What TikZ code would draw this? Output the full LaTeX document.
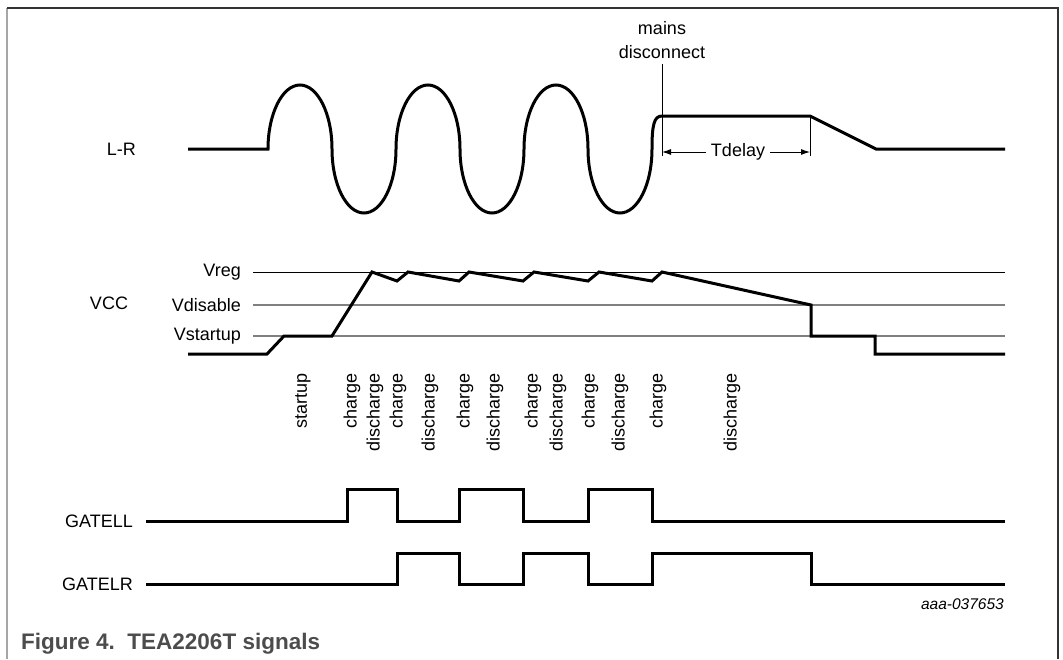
\documentclass[tikz,border=0pt]{standalone}
\usepackage{fontspec}
\setmainfont{Liberation Sans}
\usetikzlibrary{arrows.meta}

\begin{document}
\begin{tikzpicture}[x=1pt,y=-1pt,font=\fontsize{18}{20}\selectfont]
  \tikzstyle{every node}=[inner sep=0pt]
  \tikzstyle{signal}=[line width=3pt,line join=miter]
  \tikzstyle{level}=[line width=1.3pt,black!50]
  \tikzstyle{marker}=[line width=0.9pt]
  \tikzstyle{phase}=[rotate=90,anchor=east]
  \tikzstyle{signame}=[anchor=east]
  \tikzstyle{hump}=[x radius=32pt,y radius=64pt]

  \useasboundingbox (0,0) rectangle (1063,659);
  \draw[black!35,line width=1.5pt] (7,659) -- (7,8);
  \draw[black!80,line width=1.5pt] (7,8) -- (1058,8) -- (1058,659);

  \node[signame] (lr)   at (136,149) {L-R};
  \node          (vcc)  at (109,303) {VCC};
  \node[signame] (vreg) at (241,272) {Vreg};
  \node[signame] (vdis) at (241,305) {Vdisable};
  \node[signame] (vst)  at (241,336) {Vstartup};
  \node[signame] (gll)  at (133,521) {GATELL};
  \node[signame] (glr)  at (133,584) {GATELR};
  \coordinate (rend) at (1005,0);

  \draw[marker] ([xshift=12pt]vreg.east) -- (vreg.east -| rend);
  \draw[level]  ([xshift=12pt]vdis.east) -- (vdis.east -| rend);
  \draw[level]  ([xshift=12pt]vst.east)  -- (vst.east -| rend);

  \draw[signal] (188,149) -- (268,149)
    \foreach \i in {1,2,3} {
      arc[hump,start angle=180,end angle=0] arc[hump,start angle=180,end angle=360]
    }
    .. controls (652,125) and (654,116) .. (662,116) -- (810,116) -- (876,149) -- (1005,149);

  \node (mains) at (662,28) {mains};
  \node (disc)  at (662,52) {disconnect};
  \node (tdl)   at (738,152) {Tdelay};
  \coordinate (td0) at (662,156);
  \coordinate (td1) at (810,156);
  \draw[marker] ([yshift=-5pt]disc.south) -- (td0);
  \draw[marker] (810,116) -- (td1);
  \draw[marker,-{Latex[length=9pt,width=6pt]}] ([xshift=-5pt]tdl.west) -- (td0 |- tdl);
  \draw[marker,-{Latex[length=9pt,width=6pt]}] ([xshift=5pt]tdl.east) -- (td1 |- tdl);

  \draw[signal] (188,354) -- (267,354) -- (284,336) -- (332,336) -- (372,272)
    -- (397,281) -- (408,272) -- (459,281) -- (469,272) -- (523,281) -- (534,272)
    -- (588,281) -- (599,272) -- (652,281) -- (662,272)
    -- (811,305) -- (811,336) -- (875,336) -- (875,354) -- (1005,354);

  \foreach \x/\t in {303/startup,352/charge,375/discharge,398/charge,430/discharge,
                     465/charge,495/discharge,533/charge,558/discharge,590/charge,
                     620/discharge,658/charge,732/discharge}
    \node[phase] (ph\x) at (\x,373) {\t};

  \draw[signal] ([xshift=13pt]gll.east) -- (347,521) -- (347,489) -- (397,489) -- (397,521)
    -- (459,521) -- (459,489) -- (523,489) -- (523,521) -- (588,521) -- (588,489)
    -- (652,489) -- (652,521) -- (1005,521);
  \draw[signal] ([xshift=13pt]glr.east) -- (397,584) -- (397,553) -- (459,553) -- (459,584)
    -- (523,584) -- (523,553) -- (588,553) -- (588,584) -- (652,584) -- (652,553)
    -- (811,553) -- (811,584) -- (1005,584);

  \node[anchor=base east,font=\itshape\fontsize{15.5}{17}\selectfont] (code) at (1004,609) {aaa-037653};
  \node[anchor=base west,font=\bfseries\fontsize{22.5}{26}\selectfont,text=black!70] (cap) at (21,649)
    {Figure 4.\ \ TEA2206T signals};
\end{tikzpicture}
\end{document}
